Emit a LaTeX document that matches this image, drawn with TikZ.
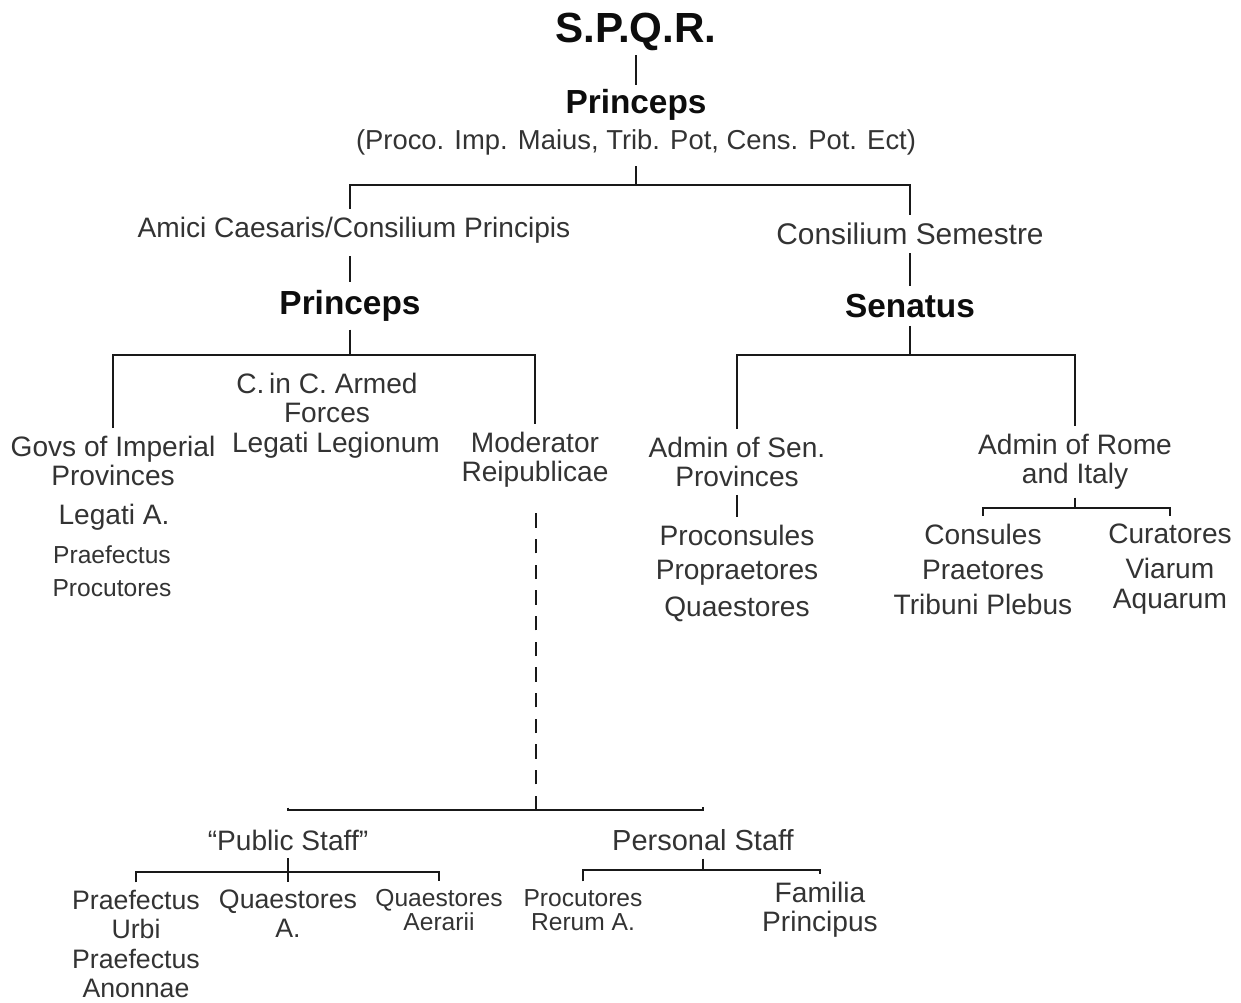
\documentclass[tikz,border=0pt]{standalone}
\usepackage{fontspec}
\setmainfont{Liberation Sans}
\usetikzlibrary{positioning}

\begin{document}
\begin{tikzpicture}[x=0.02cm,y=-0.02cm,line width=1.2pt,draw=black!90,
  every node/.style={text=black!80,align=center,inner sep=4pt},
  lbl/.style={font=\fontsize{16}{16.5}\selectfont},
  mid/.style={font=\fontsize{15.2}{16.6}\selectfont},
  sml/.style={font=\fontsize{14}{13.6}\selectfont},
  head/.style={font=\bfseries\fontsize{19}{22}\selectfont,text=black!95},
  title/.style={font=\bfseries\fontsize{24}{28}\selectfont,text=black!95},
  dashline/.style={dash pattern=on 8.2pt off 6.4pt}]
  \useasboundingbox (0,0) rectangle (1241,1002);

  % top
  \node[title] (spqr) at (636,32) {S.P.Q.R.};
  \node[head,inner sep=2pt] (pr0) at (636,105) {Princeps};
  \node[lbl,font=\fontsize{15.6}{16.5}\selectfont] (powers) at (636,142) {(Proco. Imp. Maius, Trib. Pot, Cens. Pot. Ect)};
  \coordinate (f0) at (636,185);
  \node[lbl] (amici) at (354,230) {Amici Caesaris/Consilium Principis};
  \node[lbl,font=\fontsize{17}{17}\selectfont] (consem) at (910,234) {Consilium Semestre};
  \node[head] (pr1) at (350,306) {Princeps};
  \node[head] (sen) at (910,306) {Senatus};

  \draw[shorten <=-2pt] (spqr) -- (pr0);
  \draw[shorten <=2pt] (powers) -- (f0);
  \draw (amici.north -| pr1) |- (f0) -| (consem);
  \draw[shorten <=3pt] (amici.south -| pr1) -- (pr1);
  \draw (consem) -- (sen);

  % princeps side
  \coordinate (f1) at (350,355);
  \node[lbl] (govs) at (113,461) {Govs of Imperial\\Provinces};
  \node[lbl] (cinc) at (327,398) {C.\,in C. Armed\\Forces};
  \node[lbl] (legleg) at (336,445) {Legati Legionum};
  \node[lbl] (moder) at (535,460) {Moderator\\Reipublicae};
  \node[lbl] (lega) at (114,517) {Legati A.};
  \node[sml] (praef) at (112,555) {Praefectus};
  \node[sml] (procu) at (112,588) {Procutores};

  \draw (pr1) -- (f1);
  \draw (govs) |- (f1) -| (moder);

  % senatus side
  \coordinate (f3) at (910,355);
  \node[lbl] (asen) at (737,462) {Admin of Sen.\\Provinces};
  \node[lbl] (arome) at (1075,462) {Admin of Rome\\and Italy};
  \node[lbl] (procon) at (737,535) {Proconsules};
  \node[lbl] (propr) at (737,573) {Propraetores};
  \node[lbl] (quaes) at (737,609) {Quaestores};

  \draw (sen) -- (f3);
  \draw (asen) |- (f3) -| (arome);
  \draw (asen) -- (procon);

  \coordinate (f4) at (1075,508);
  \node[lbl] (consul) at (983,534) {Consules};
  \node[lbl] (praet) at (983,570) {Praetores};
  \node[lbl] (tribpl) at (983,604) {Tribuni Plebus};
  \node[lbl] (curat) at (1170,534) {Curatores};
  \node[lbl] (viar) at (1170,568) {Viarum};
  \node[lbl] (aquar) at (1170,602) {Aquarum};

  \draw (arome) -- (f4);
  \draw (consul) |- (f4) -| (curat);

  % staff
  \coordinate (f5) at (536,810);
  \node[lbl] (pubst) at (288,840) {“Public Staff”};
  \node[lbl,font=\fontsize{16.5}{17}\selectfont] (perst) at (703,840) {Personal Staff};

  \draw[dashline,shorten >=7pt] (f5) -- (moder.south -| f5);
  \draw[shorten <=8pt,shorten >=8pt] (pubst) |- (f5) -| (perst);

  \coordinate (f6) at (288,872);
  \coordinate (f7) at (703,870);
  \node[mid] (pu) at (136,944) {Praefectus\\Urbi\\Praefectus\\Anonnae};
  \node[mid] (qa) at (288,914) {Quaestores\\A.};
  \node[sml] (qaer) at (439,910) {Quaestores\\Aerarii};
  \node[sml] (procr) at (583,910) {Procutores\\Rerum A.};
  \node[lbl] (famil) at (820,910) {Familia\\Principus};

  \draw (pubst) -- (qa);
  \draw (pu) |- (f6) -| (qaer);
  \draw (perst) -- (f7);
  \draw (procr) |- (f7) -| (famil);
\end{tikzpicture}
\end{document}
